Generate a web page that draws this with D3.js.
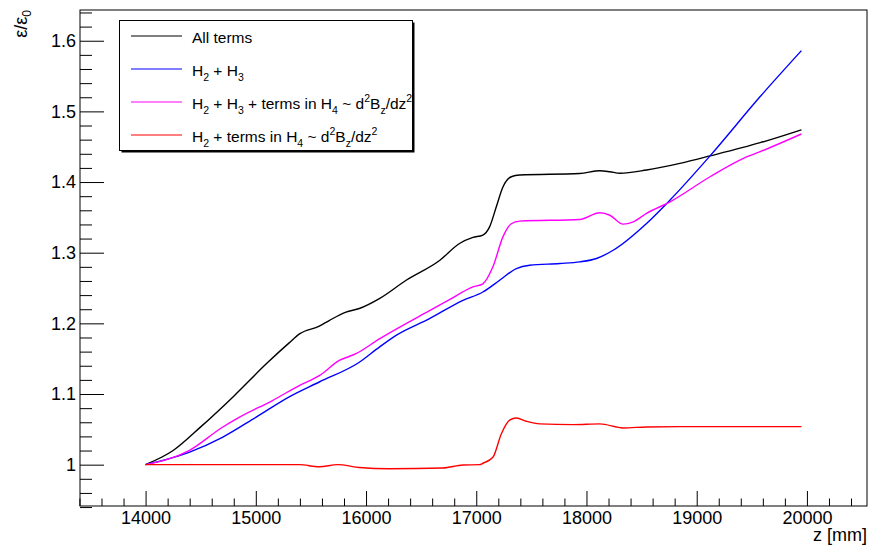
<!DOCTYPE html>
<html>
<head>
<meta charset="utf-8">
<script src="https://cdn.jsdelivr.net/npm/d3@7"></script>
<style>
  body { margin: 0; background: #fff; }
  text { font-family: "Liberation Sans", Arial, sans-serif; }
</style>
</head>
<body>
<svg id="chart" width="869" height="549"></svg>
<script>
// values
var allZ   = [14000, 14250, 14500, 14800, 15100, 15300, 15400, 15576, 15666, 15818, 15939, 16121, 16364, 16667, 16848, 16970, 17060, 17121, 17182, 17242, 17318, 17394, 17939, 18121, 18212, 18303, 18545, 18848, 19121, 19576, 19950];
var allV   = [1.000, 1.020, 1.0535, 1.097, 1.1435, 1.172, 1.1854, 1.196, 1.204, 1.216, 1.221, 1.235, 1.261, 1.289, 1.313, 1.3216, 1.325, 1.3366, 1.365, 1.393, 1.4075, 1.410, 1.412, 1.416, 1.4146, 1.4124, 1.417, 1.4265, 1.437, 1.4557, 1.474];

var h23Z   = [14000, 14394, 14697, 15000, 15303, 15576, 15939, 16121, 16273, 16576, 16879, 17060, 17212, 17364, 17485, 17758, 17939, 18091, 18242, 18545, 18758, 19121, 19576, 19950];
var h23V   = [1.000, 1.0175, 1.0387, 1.067, 1.096, 1.117, 1.145, 1.1664, 1.183, 1.2066, 1.2326, 1.2444, 1.261, 1.2776, 1.2823, 1.2847, 1.287, 1.2918, 1.3035, 1.3414, 1.3745, 1.437, 1.521, 1.586];

var h234Z  = [14000, 14394, 14697, 14848, 15151, 15394, 15576, 15757, 15909, 16121, 16576, 16757, 16970, 17060, 17151, 17242, 17318, 17394, 17939, 18121, 18212, 18333, 18424, 18545, 18758, 19121, 19424, 19576, 19950];
var h234V  = [1.000, 1.0199, 1.053, 1.067, 1.0908, 1.112, 1.126, 1.1475, 1.157, 1.178, 1.218, 1.2336, 1.2515, 1.256, 1.280, 1.3224, 1.341, 1.3447, 1.347, 1.3565, 1.353, 1.3404, 1.3437, 1.3556, 1.372, 1.4075, 1.4336, 1.443, 1.468];

var h24Z   = [14000, 15212, 15394, 15576, 15742, 15939, 16212, 16697, 16879, 17030, 17060, 17151, 17227, 17303, 17364, 17455, 17576, 17879, 18121, 18333, 18545, 18848, 19950];
var h24V   = [1.000, 1.000, 1.000, 0.997, 1.000, 0.996, 0.9943, 0.9953, 0.9995, 1.000, 1.002, 1.0104, 1.0435, 1.063, 1.066, 1.0614, 1.0577, 1.0567, 1.0577, 1.052, 1.0534, 1.0539, 1.0539];

var xMajor = [14000, 15000, 16000, 17000, 18000, 19000, 20000];
var yMajor = [1.0, 1.1, 1.2, 1.3, 1.4, 1.5, 1.6];

var svg = d3.select("#chart");
var padL = 80, padR = 867, padT = 10, padB = 506;

var x = d3.scaleLinear().domain([13405, 20545]).range([padL, padR]);
var y = d3.scaleLinear().domain([0.9415, 1.6435]).range([padB, padT]);

var xMinor = d3.range(13400, 20500, 200).filter(function(d) { return d % 1000 !== 0; });
var yMinor = d3.range(47, 83).map(function(i) { return +(i * 0.02).toFixed(2); })
  .filter(function(d) { return Math.abs(d * 10 - Math.round(d * 10)) > 1e-6; });

// frame
svg.append("rect")
  .attr("x", padL).attr("y", padT)
  .attr("width", padR - padL).attr("height", padB - padT)
  .attr("fill", "none").attr("stroke", "#000").attr("stroke-width", 1);

// x axis (ticks pointing up into the frame)
var gx = svg.append("g").attr("transform", "translate(0," + padB + ")");
gx.call(d3.axisBottom(x).tickValues(xMajor).tickSize(-15).tickPadding(5).tickFormat(d3.format("d")));
gx.append("g").call(d3.axisBottom(x).tickValues(xMinor).tickSize(-7.5).tickFormat(""));
gx.selectAll(".domain").remove();
gx.selectAll("line").attr("stroke", "#000");
gx.selectAll("text").attr("font-size", 18).attr("fill", "#000")
  .style("font-family", "'Liberation Sans', Arial, sans-serif");

// y axis (ticks pointing right into the frame)
var gy = svg.append("g").attr("transform", "translate(" + padL + ",0)");
gy.call(d3.axisLeft(y).tickValues(yMajor).tickSize(-24).tickPadding(4)
  .tickFormat(function(d) { return d === 1 ? "1" : d.toFixed(1); }));
gy.append("g").call(d3.axisLeft(y).tickValues(yMinor).tickSize(-12).tickFormat(""));
gy.selectAll(".domain").remove();
gy.selectAll("line").attr("stroke", "#000");
gy.selectAll("text").attr("font-size", 18).attr("fill", "#000")
  .style("font-family", "'Liberation Sans', Arial, sans-serif");

// axis titles
svg.append("text")
  .attr("x", padR).attr("y", 541)
  .attr("text-anchor", "end").attr("font-size", 18)
  .text("z [mm]");

var yt = svg.append("text")
  .attr("transform", "translate(27,10) rotate(-90)")
  .attr("text-anchor", "end").attr("font-size", 18);
yt.append("tspan").text("ε/ε");
yt.append("tspan").attr("font-size", 12).attr("dy", 4).text("0");

// curves
var series = [
  { z: allZ,  v: allV,  color: "#000000" },
  { z: h23Z,  v: h23V,  color: "#0000ff" },
  { z: h234Z, v: h234V, color: "#ff00ff" },
  { z: h24Z,  v: h24V,  color: "#ff0000" }
];

var line = d3.line()
  .x(function(d) { return x(d[0]); })
  .y(function(d) { return y(d[1]); })
  .curve(d3.curveMonotoneX);

series.forEach(function(s) {
  var pts = s.z.map(function(z, i) { return [z, s.v[i]]; });
  svg.append("path")
    .attr("d", line(pts))
    .attr("fill", "none")
    .attr("stroke", s.color)
    .attr("stroke-width", 1.4);
});

// legend
var lg = svg.append("g");
lg.append("rect").attr("x", 121.5).attr("y", 22.5).attr("width", 293).attr("height", 130).attr("fill", "#000");
lg.append("rect").attr("x", 119.5).attr("y", 20.5).attr("width", 293).attr("height", 130)
  .attr("fill", "#fff").attr("stroke", "#000").attr("stroke-width", 1);

var rowY = [36, 69, 102, 135];
series.forEach(function(s, i) {
  lg.append("line")
    .attr("x1", 131).attr("x2", 182)
    .attr("y1", rowY[i]).attr("y2", rowY[i])
    .attr("stroke", s.color).attr("stroke-width", 1.2);
});

// legend labels: pieces of [text, shift]; shift: 0 normal, 1 sub, -1 sup
var labels = [
  [["All terms", 0]],
  [["H", 0], ["2", 1], [" + H", 0], ["3", 1]],
  [["H", 0], ["2", 1], [" + H", 0], ["3", 1], [" + terms in H", 0], ["4", 1], [" ~ d", 0], ["2", -1], ["B", 0], ["z", 1], ["/dz", 0], ["2", -1]],
  [["H", 0], ["2", 1], [" + terms in H", 0], ["4", 1], [" ~ d", 0], ["2", -1], ["B", 0], ["z", 1], ["/dz", 0], ["2", -1]]
];

labels.forEach(function(parts, i) {
  var t = lg.append("text")
    .attr("x", 192).attr("y", rowY[i] + 7)
    .attr("font-size", 15.5);
  var cur = 0;
  parts.forEach(function(p) {
    var want = p[1] === 1 ? 5 : (p[1] === -1 ? -7 : 0);
    t.append("tspan")
      .attr("dy", want - cur)
      .attr("font-size", p[1] === 0 ? 15.5 : 10.5)
      .text(p[0]);
    cur = want;
  });
});
</script>
</body>
</html>
